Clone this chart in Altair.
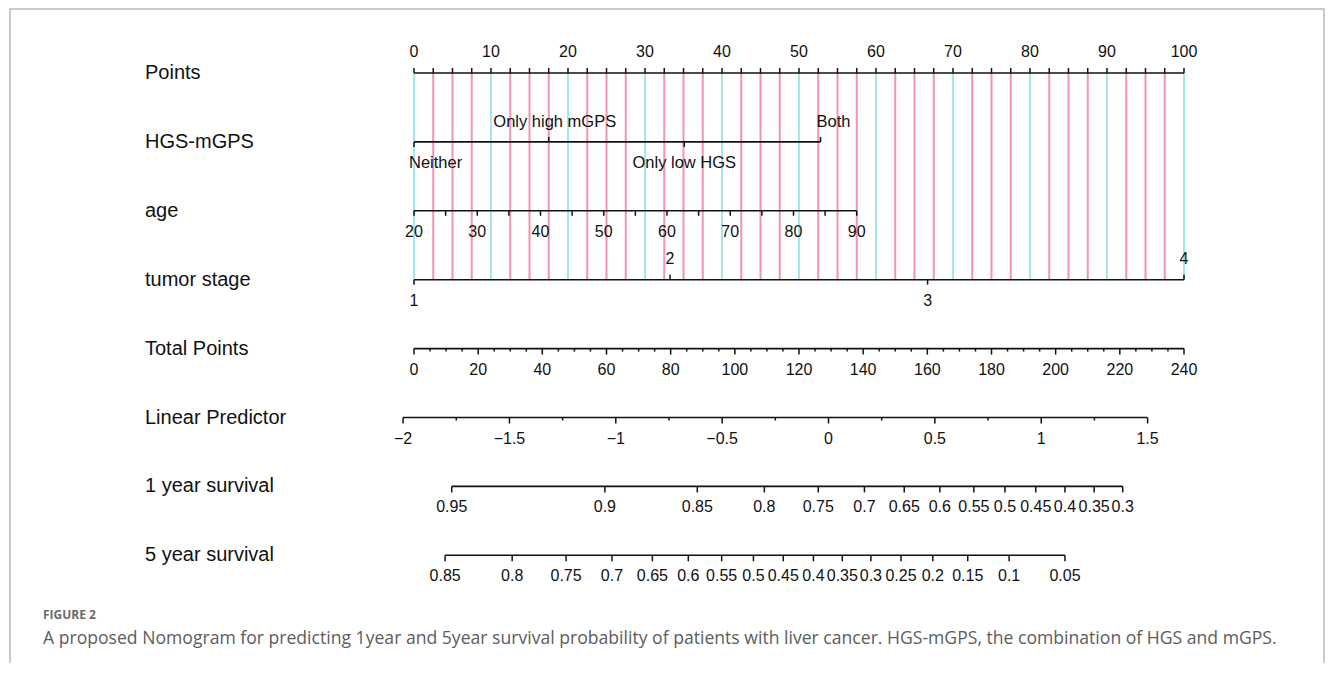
import altair as alt
import pandas as pd

# ---------------- data ----------------
row_names = ["Points", "HGS-mGPS", "age", "tumor stage", "Total Points",
             "Linear Predictor", "1 year survival", "5 year survival"]

points_labels = [0, 10, 20, 30, 40, 50, 60, 70, 80, 90, 100]
points_ticks = [i * 2.5 for i in range(41)]

hgs_levels = ["Neither", "Only high mGPS", "Only low HGS", "Both"]
hgs_points = [0, 17.5, 35.1, 52.8]
hgs_side = ["below", "above", "below", "above"]

age_labels = [20, 30, 40, 50, 60, 70, 80, 90]
age_ticks = [20, 25, 30, 35, 40, 45, 50, 55, 60, 65, 70, 75, 80, 85, 90]
age_range = [20, 90]
age_points_range = [0, 57.5]

stage_levels = ["1", "2", "3", "4"]
stage_points = [0, 33.25, 66.7, 100]
stage_side = ["below", "above", "below", "above"]

total_labels = [0, 20, 40, 60, 80, 100, 120, 140, 160, 180, 200, 220, 240]
total_ticks = list(range(0, 241, 5))
total_max = 240

lp_labels = [-2, -1.5, -1, -0.5, 0, 0.5, 1, 1.5]
lp_texts = ["\u22122", "\u22121.5", "\u22121", "\u22120.5", "0", "0.5", "1", "1.5"]
lp_minor = [-1.75, -1.25, -0.75, -0.25, 0.25, 0.75, 1.25]
lp_total_at_start = -3.4      # total points at LP = -2
lp_total_per_unit = 66.3      # total points per LP unit

surv1_labels = ["0.95", "0.9", "0.85", "0.8", "0.75", "0.7", "0.65", "0.6",
                "0.55", "0.5", "0.45", "0.4", "0.35", "0.3"]
surv1_total = [11.75, 59.5, 88.3, 109.2, 126.0, 140.4, 152.8, 163.9,
               174.5, 184.2, 193.8, 202.9, 212.0, 220.9]

surv5_labels = ["0.85", "0.8", "0.75", "0.7", "0.65", "0.6", "0.55", "0.5",
                "0.45", "0.4", "0.35", "0.3", "0.25", "0.2", "0.15", "0.1", "0.05"]
surv5_total = [9.7, 30.6, 47.4, 61.7, 74.3, 85.5, 95.9, 105.8,
               115.1, 124.5, 133.5, 142.4, 151.8, 161.7, 172.6, 185.5, 202.9]

caption_head = "FIGURE 2"
caption_text = ("A proposed Nomogram for predicting 1year and 5year survival probability of "
                "patients with liver cancer. HGS-mGPS, the combination of HGS and mGPS.")

# ---------------- helpers (convert to the common Points scale) ----------------
def tp_to_pts(tp):
    return tp * 100.0 / total_max

def age_to_pts(a):
    return age_points_range[0] + (a - age_range[0]) / (age_range[1] - age_range[0]) * (
        age_points_range[1] - age_points_range[0])

def lp_to_pts(v):
    return tp_to_pts(lp_total_at_start + (v - lp_labels[0]) * lp_total_per_unit)

ticks, labels, lines = [], [], []

# Points
for v in points_ticks:
    ticks.append(dict(row=0, pos=v, kind="up5"))
for v in points_labels:
    labels.append(dict(row=0, pos=v, text=str(v), side="above"))
lines.append(dict(row=0, start=0, end=100))

# HGS-mGPS
for lev, p, s in zip(hgs_levels, hgs_points, hgs_side):
    ticks.append(dict(row=1, pos=p, kind="up5" if s == "above" else "down5"))
lines.append(dict(row=1, start=min(hgs_points), end=max(hgs_points)))

# age
for a in age_ticks:
    ticks.append(dict(row=2, pos=age_to_pts(a), kind="down5"))
for a in age_labels:
    labels.append(dict(row=2, pos=age_to_pts(a), text=str(a), side="below"))
lines.append(dict(row=2, start=age_to_pts(age_range[0]), end=age_to_pts(age_range[1])))

# tumor stage
for lev, p, s in zip(stage_levels, stage_points, stage_side):
    ticks.append(dict(row=3, pos=p, kind="up5" if s == "above" else "down5"))
    labels.append(dict(row=3, pos=p, text=lev, side=s))
lines.append(dict(row=3, start=min(stage_points), end=max(stage_points)))

# Total points
for v in total_ticks:
    ticks.append(dict(row=4, pos=tp_to_pts(v), kind="down6" if v % 20 == 0 else "down3"))
for v in total_labels:
    labels.append(dict(row=4, pos=tp_to_pts(v), text=str(v), side="below"))
lines.append(dict(row=4, start=0, end=100))

# Linear predictor
for v, t in zip(lp_labels, lp_texts):
    ticks.append(dict(row=5, pos=lp_to_pts(v), kind="down6"))
    labels.append(dict(row=5, pos=lp_to_pts(v), text=t, side="below"))
for v in lp_minor:
    ticks.append(dict(row=5, pos=lp_to_pts(v), kind="down3"))
lines.append(dict(row=5, start=lp_to_pts(lp_labels[0]), end=lp_to_pts(lp_labels[-1])))

# survival
for r, labs, tots in [(6, surv1_labels, surv1_total), (7, surv5_labels, surv5_total)]:
    for l, t in zip(labs, tots):
        ticks.append(dict(row=r, pos=tp_to_pts(t), kind="down6"))
        labels.append(dict(row=r, pos=tp_to_pts(t), text=l, side="below"))
    lines.append(dict(row=r, start=tp_to_pts(min(tots)), end=tp_to_pts(max(tots))))

ticks_df = pd.DataFrame(ticks)
labels_df = pd.DataFrame(labels)
lines_df = pd.DataFrame(lines)
hgs_df = pd.DataFrame(dict(row=1, pos=hgs_points, text=hgs_levels, side=hgs_side))
grid_df = pd.DataFrame(dict(pos=points_ticks,
                            major=[(v % 10 == 0) for v in points_ticks],
                            top=0, bottom=3))
rows_df = pd.DataFrame(dict(row=list(range(len(row_names))), name=row_names))

# ---------------- scales ----------------
W, H = 1317, 655
xs = alt.Scale(domain=[-52.727, 118.312], nice=False, zero=False)
ys = alt.Scale(domain=[-0.9434, 8.5631], reverse=True, nice=False, zero=False)

X = lambda f: alt.X(f, scale=xs, axis=None)
Y = lambda f: alt.Y(f, scale=ys, axis=None)

FONT = "Liberation Sans"
INK = "#111111"
TICK_FS = 16
HGS_FS = 16.5

frame = alt.Chart(pd.DataFrame({"a": [0]})).mark_rect(
    filled=False, stroke="#b8b8b8", strokeWidth=1.5
).encode(x=alt.value(2), x2=alt.value(1316), y=alt.value(1), y2=alt.value(720))

grid = alt.Chart(grid_df).mark_rule(strokeWidth=2).encode(
    x=X("pos:Q"), y=Y("top:Q"), y2="bottom:Q",
    color=alt.Color("major:N", scale=alt.Scale(domain=[True, False],
                                               range=["#a3e6ee", "#f493b2"]), legend=None),
)

axis_lines = alt.Chart(lines_df).mark_rule(strokeWidth=1.6, color=INK).encode(
    x=X("start:Q"), x2="end:Q", y=Y("row:Q"))

def tick_layer(kind, off):
    return alt.Chart(ticks_df).transform_filter(alt.datum.kind == kind).mark_rule(
        strokeWidth=1.5, color=INK, y2Offset=off).encode(
        x=X("pos:Q"), y=Y("row:Q"), y2="row:Q")

tick_layers = [tick_layer("up5", -5), tick_layer("down5", 5),
               tick_layer("down6", 6), tick_layer("down3", 3)]

def label_layer(df, side, **kw):
    props = dict(font=FONT, fontSize=TICK_FS, color=INK, baseline="middle", align="center",
                 dy=-21 if side == "above" else 21)
    props.update(kw)
    return alt.Chart(df).transform_filter(alt.datum.side == side).mark_text(**props).encode(
        x=X("pos:Q"), y=Y("row:Q"), text="text:N")

label_layers = [label_layer(labels_df, "above"), label_layer(labels_df, "below")]

def hgs_layer(name, align, dx, dy):
    return alt.Chart(hgs_df).transform_filter(alt.datum.text == name).mark_text(
        font=FONT, fontSize=HGS_FS, color=INK, baseline="middle", align=align, dx=dx, dy=dy
    ).encode(x=X("pos:Q"), y=Y("row:Q"), text="text:N")

hgs_layers = [
    hgs_layer("Neither", "left", -5, 21),
    hgs_layer("Only high mGPS", "center", 6, -20),
    hgs_layer("Only low HGS", "center", 0, 21),
    hgs_layer("Both", "left", -4, -20),
]

row_labels = alt.Chart(rows_df).mark_text(
    font=FONT, fontSize=20, color=INK, baseline="middle", align="left", dy=0
).encode(x=alt.value(137), y=Y("row:Q"), text="name:N")

cap1 = alt.Chart(pd.DataFrame({"t": [caption_head]})).mark_text(
    font="Open Sans", fontSize=12, fontWeight="bold", color="#6b6b6b",
    align="left", baseline="middle"
).encode(x=alt.value(35), y=alt.value(607), text="t:N")

cap2 = alt.Chart(pd.DataFrame({"t": [caption_text]})).mark_text(
    font="Open Sans", fontSize=17.6, color="#5c5c5c", align="left", baseline="middle"
).encode(x=alt.value(35), y=alt.value(631), text="t:N")

chart = alt.layer(
    frame, grid, axis_lines, *tick_layers, *label_layers, *hgs_layers, row_labels, cap1, cap2
).properties(
    width=W, height=H, padding=0, autosize=alt.AutoSizeParams(type="none"),
    background="white"
).configure_view(stroke=None)

chart.save("out.html", embed_options={"renderer": "svg", "actions": False})
